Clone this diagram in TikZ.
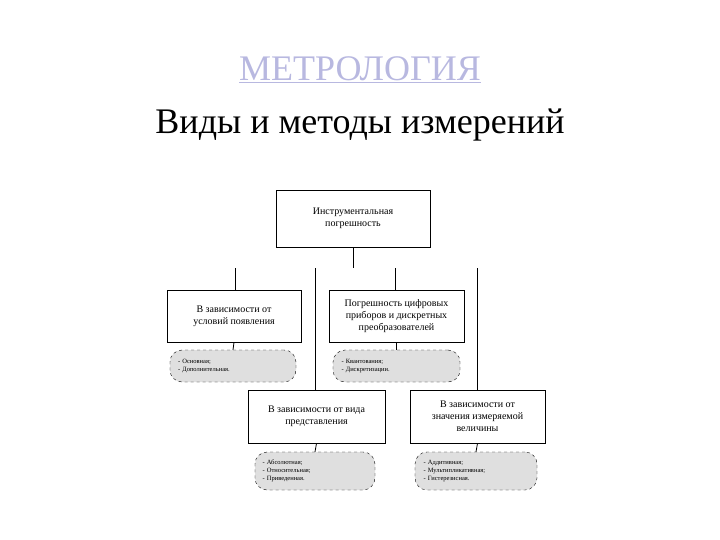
\documentclass[tikz,border=0pt]{standalone}
\usepackage{fontspec}
\setmainfont{Liberation Serif}
\begin{document}
\begin{tikzpicture}[x=1pt,y=-1pt,
  box/.style={draw,thick,fill=white,inner sep=0pt,align=center,font=\fontsize{10}{12}\selectfont},
  pill/.style={draw,dashed,fill=gray!25,rounded corners=12pt,inner sep=0pt,align=left,text width=#1,font=\fontsize{6.5}{8}\selectfont},
  ln/.style={thick}]
\useasboundingbox (0,0) rectangle (720,540);
\node[text=gray!60!blue!40,font=\fontsize{36}{40}\selectfont] (t1) at (360,70) {\underline{МЕТРОЛОГИЯ}};
\node[font=\fontsize{36}{40}\selectfont] (t2) at (360,125) {Виды и методы измерений};
\node[box,minimum width=154,minimum height=57] (top) at (353,218.5) {Инструментальная\\погрешность};
\node[box,minimum width=134,minimum height=52] (b1) at (234,316) {В зависимости от\\условий появления};
\node[box,minimum width=135,minimum height=52] (b2) at (396.5,316) {Погрешность цифровых\\приборов и дискретных\\преобразователей};
\node[box,minimum width=137,minimum height=53] (b3) at (316.5,416.5) {В зависимости от вида\\представления};
\node[box,minimum width=135,minimum height=53] (b4) at (477.5,416.5) {В зависимости от\\значения измеряемой\\величины};
\node[pill=110pt,minimum width=126,minimum height=32] (p1) at (233,366) {- Основная;\\- Дополнительная.};
\node[pill=110pt,minimum width=127,minimum height=32] (p2) at (396.5,366) {- Квантования;\\- Дискретизации.};
\node[pill=105pt,minimum width=120,minimum height=38] (p3) at (315,471) {- Абсолютная;\\- Относительная;\\- Приведенная.};
\node[pill=105pt,minimum width=122,minimum height=38] (p4) at (476,471) {- Аддитивная;\\- Мультипликативная;\\- Гистерезисная.};
\coordinate (c0) at (353,268);
\coordinate (c1) at (235,268);
\coordinate (c2) at (315,268);
\coordinate (c3) at (395,268);
\coordinate (c4) at (477,268);
\draw[ln] (top.south) -- (c0);
\draw[ln] (c1) -- (c1 |- b1.north);
\draw[ln] (c3) -- (c3 |- b2.north);
\draw[ln] (c2) -- (c2 |- b3.north);
\draw[ln] (c4) -- (c4 |- b4.north);
\draw[ln] (b1.south) -- (p1.north);
\draw[ln] (b2.south) -- (p2.north);
\draw[ln] (b3.south) -- (p3.north);
\draw[ln] (b4.south) -- (p4.north);
\end{tikzpicture}
\end{document}
